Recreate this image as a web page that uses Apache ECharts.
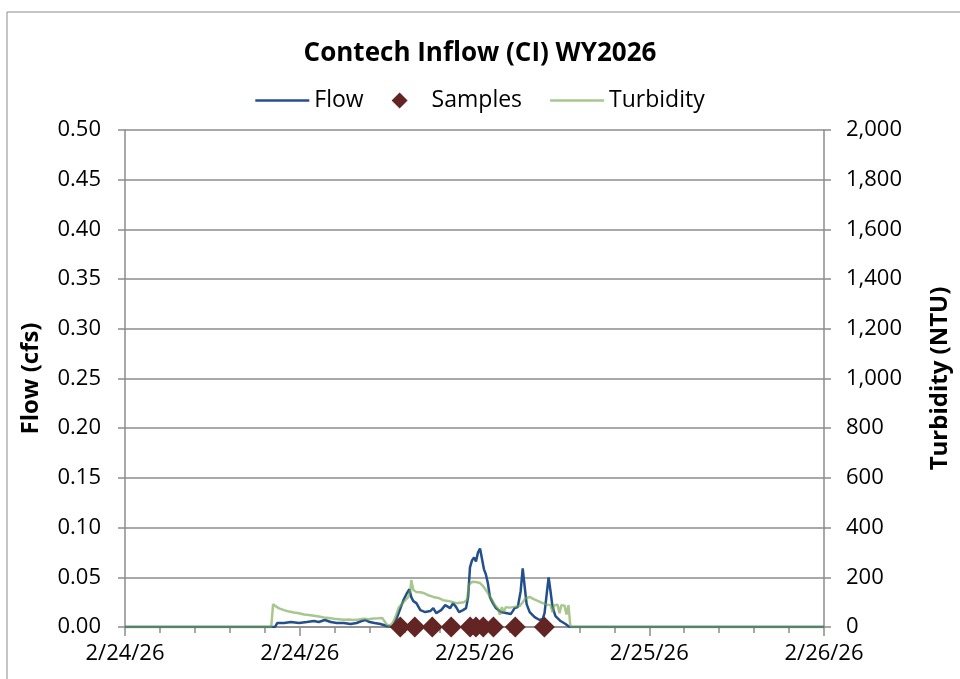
<!DOCTYPE html>
<html>
<head>
<meta charset="utf-8">
<script src="https://cdn.jsdelivr.net/npm/echarts@6/dist/echarts.min.js"></script>
<style>
html, body { margin: 0; padding: 0; background: #fff; }
#chart { width: 960px; height: 679px; }
</style>
</head>
<body>
<div id="chart"></div>
<script>
// hours after 2/24/26 00:00
var xTickLabels = ['2/24/26', '2/24/26', '2/25/26', '2/25/26', '2/26/26'];

var flowHours = [0, 10.3, 10.45, 10.92, 11.40, 11.95, 12.49, 12.97, 13.31, 13.72, 14.13, 14.54, 15.02, 15.49, 15.90,
	16.25, 16.52, 16.80, 17.14, 17.55, 17.96, 18.37, 18.64, 18.84, 19.12, 19.32, 19.53, 19.66, 19.80, 20.01,
	20.28, 20.62, 20.96, 21.17, 21.37, 21.71, 21.99, 22.33, 22.53, 22.74, 22.94, 23.21, 23.42, 23.56, 23.69,
	23.83, 23.97, 24.10, 24.24, 24.38, 24.51, 24.65, 24.78, 24.92, 25.06, 25.26, 25.47, 25.81, 26.15, 26.49,
	26.76, 26.97, 27.17, 27.31, 27.45, 27.58, 27.79, 28.13, 28.47, 28.68, 28.81, 28.95, 29.09, 29.22, 29.36,
	29.56, 29.91, 30.25, 30.52, 48];
var flowValues = [0, 0, 0.004, 0.004, 0.005, 0.004, 0.005, 0.006, 0.005, 0.007, 0.005, 0.004, 0.004, 0.003, 0.004,
	0.006, 0.007, 0.005, 0.004, 0.003, 0.001, 0.000, 0.008, 0.016, 0.027, 0.033, 0.038, 0.030, 0.026, 0.024,
	0.017, 0.015, 0.016, 0.019, 0.014, 0.017, 0.022, 0.019, 0.024, 0.020, 0.015, 0.017, 0.019, 0.030, 0.060,
	0.067, 0.070, 0.066, 0.075, 0.079, 0.077, 0.058, 0.053, 0.044, 0.030, 0.024, 0.019, 0.015, 0.014, 0.013,
	0.019, 0.020, 0.036, 0.059, 0.040, 0.023, 0.015, 0.010, 0.007, 0.008, 0.014, 0.032, 0.050, 0.036, 0.020,
	0.011, 0.006, 0.003, 0.000, 0];

var turbHours = [0, 10.04, 10.17, 10.31, 10.58, 10.92, 11.27, 11.61, 11.95, 12.29, 12.63, 12.97, 13.31, 13.66, 14.00,
	14.34, 14.68, 15.02, 15.36, 15.70, 16.05, 16.39, 16.73, 17.07, 17.41, 17.68, 17.96, 18.16, 18.37, 18.57,
	18.78, 19.12, 19.46, 19.60, 19.66, 19.80, 20.01, 20.28, 20.48, 20.82, 21.17, 21.51, 21.85, 22.19, 22.53,
	22.74, 23.01, 23.28, 23.49, 23.62, 23.83, 24.10, 24.38, 24.58, 24.78, 25.13, 25.40, 25.60, 25.74, 25.88,
	26.01, 26.15, 26.42, 26.63, 26.83, 27.11, 27.31, 27.52, 27.79, 28.06, 28.34, 28.68, 29.02, 29.22, 29.36,
	29.50, 29.70, 29.84, 29.97, 30.18, 30.32, 30.45, 30.52, 30.59, 48];
var turbValues = [0, 0, 92, 85, 75, 68, 62, 58, 55, 50, 48, 45, 42, 38, 36,
	33, 31, 29, 30, 28, 30, 33, 31, 34, 35, 36, 10, 5, 15, 40,
	76, 100, 121, 150, 189, 149, 141, 140, 137, 128, 121, 117, 108, 105, 100,
	96, 98, 100, 110, 170, 182, 181, 177, 165, 149, 117, 88, 75, 50, 80,
	60, 80, 78, 80, 82, 85, 100, 117, 121, 112, 105, 96, 90, 88, 60,
	88, 90, 55, 88, 86, 50, 88, 88, 0, 0];

var sampleHours = [18.9, 19.9, 21.1, 22.4, 23.7, 24.1, 24.6, 25.3, 26.8, 28.8];
var sampleFlow = [0, 0, 0, 0, 0, 0, 0, 0, 0, 0];

function pairs(xs, ys) {
	return xs.map(function (x, i) { return [x, ys[i]]; });
}

var FONT = 'Open Sans';
var GREY = '#8c8c8c';
var FLOW_COLOR = '#234f8c';
var TURB_COLOR = 'rgba(115,165,75,0.62)';
var diamond = 'path://M5,0L10,5L5,10L0,5Z';
var lineIcon = 'path://M0,0L54,0L54,2.6L0,2.6Z';

var chart = echarts.init(document.getElementById('chart'));
chart.setOption({
	animation: false,
	backgroundColor: '#fff',
	textStyle: { fontFamily: FONT, color: '#000' },
	graphic: [{
		type: 'rect',
		shape: { x: 7, y: 12, width: 1000, height: 700 },
		style: { fill: 'none', stroke: '#8a8a8a', lineWidth: 1 },
		silent: true
	}],
	title: {
		text: 'Contech Inflow (CI) WY2026',
		left: 'center',
		top: 36,
		textStyle: { fontFamily: FONT, fontSize: 26, fontWeight: 'bold', color: '#000' }
	},
	legend: {
		top: 84,
		left: 'center',
		itemWidth: 54,
		itemHeight: 16,
		itemGap: 28,
		symbolKeepAspect: true,
		textStyle: { fontFamily: FONT, fontSize: 23, color: '#000' },
		data: [
			{ name: 'Flow', icon: lineIcon },
			{ name: 'Samples', icon: diamond },
			{ name: 'Turbidity', icon: lineIcon }
		]
	},
	grid: { left: 125, right: 130, top: 130, bottom: 52 },
	xAxis: {
		type: 'value',
		min: 0,
		max: 48,
		interval: 12,
		axisLine: { lineStyle: { color: GREY, width: 1.5 } },
		axisTick: { show: true, length: 9, lineStyle: { color: GREY, width: 1.5 } },
		minorTick: { show: true, splitNumber: 5, length: 6, lineStyle: { color: GREY, width: 1.5 } },
		splitLine: { show: false },
		axisLabel: {
			fontFamily: FONT, fontSize: 22, color: '#000', margin: 16,
			formatter: function (v) { return xTickLabels[Math.round(v / 12)]; }
		}
	},
	yAxis: [{
		type: 'value',
		min: 0,
		max: 0.5,
		interval: 0.05,
		name: 'Flow (cfs)',
		nameLocation: 'middle',
		nameRotate: 90,
		nameGap: 82,
		nameTextStyle: { fontFamily: FONT, fontSize: 24, fontWeight: 'bold', color: '#000' },
		axisLine: { show: true, lineStyle: { color: GREY, width: 1.5 } },
		axisTick: { show: true, length: 7, lineStyle: { color: GREY, width: 1.5 } },
		splitLine: { show: true, lineStyle: { color: GREY, width: 1.5 } },
		axisLabel: {
			fontFamily: FONT, fontSize: 22, color: '#000', margin: 24,
			formatter: function (v) { return v.toFixed(2); }
		}
	}, {
		type: 'value',
		min: 0,
		max: 2000,
		interval: 200,
		name: 'Turbidity (NTU)',
		nameLocation: 'middle',
		nameRotate: 90,
		nameGap: 104,
		nameTextStyle: { fontFamily: FONT, fontSize: 24, fontWeight: 'bold', color: '#000' },
		axisLine: { show: true, lineStyle: { color: GREY, width: 1.5 } },
		axisTick: { show: true, length: 7, lineStyle: { color: GREY, width: 1.5 } },
		splitLine: { show: false },
		axisLabel: {
			fontFamily: FONT, fontSize: 22, color: '#000', margin: 22,
			formatter: function (v) { return v.toLocaleString('en-US'); }
		}
	}],
	series: [{
		name: 'Flow',
		type: 'line',
		yAxisIndex: 0,
		symbol: 'none',
		color: FLOW_COLOR,
		lineStyle: { width: 2.5, color: FLOW_COLOR },
		z: 2,
		data: pairs(flowHours, flowValues)
	}, {
		name: 'Samples',
		type: 'scatter',
		yAxisIndex: 0,
		symbol: diamond,
		symbolSize: 21,
		color: '#632523',
		itemStyle: { color: '#632523', opacity: 1 },
		z: 4,
		data: pairs(sampleHours, sampleFlow)
	}, {
		name: 'Turbidity',
		type: 'line',
		yAxisIndex: 1,
		symbol: 'none',
		color: TURB_COLOR,
		lineStyle: { width: 2.5, color: TURB_COLOR },
		z: 3,
		data: pairs(turbHours, turbValues)
	}]
});
</script>
</body>
</html>
